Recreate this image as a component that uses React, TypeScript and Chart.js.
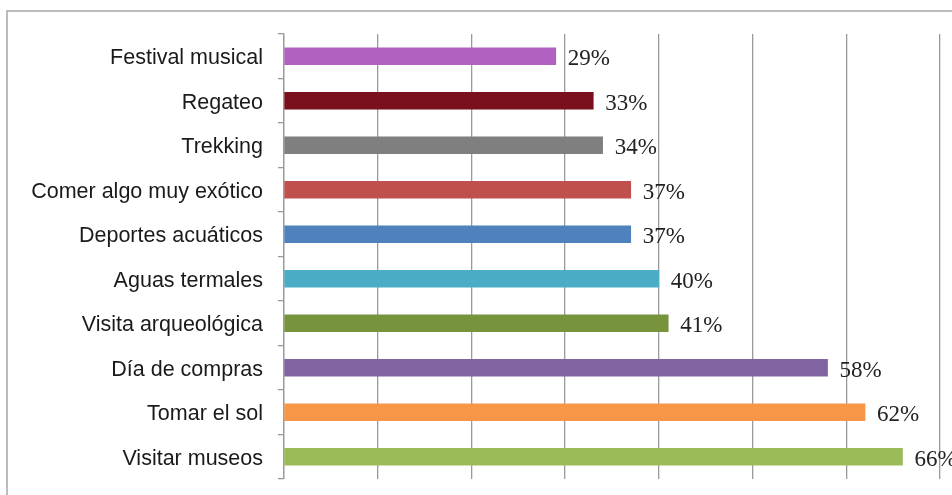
import React, { useEffect, useRef } from "react";
import { Chart, registerables } from "chart.js";

Chart.register(...registerables);

const categories = [
  "Festival musical",
  "Regateo",
  "Trekking",
  "Comer algo muy exótico",
  "Deportes acuáticos",
  "Aguas termales",
  "Visita arqueológica",
  "Día de compras",
  "Tomar el sol",
  "Visitar museos",
];
const values = [29, 33, 34, 37, 37, 40, 41, 58, 62, 66];
const barColors = [
  "#b162c0",
  "#7a0f1d",
  "#7f7f7f",
  "#c0504d",
  "#4f81bd",
  "#4bacc6",
  "#77933c",
  "#8064a2",
  "#f79646",
  "#9bbb59",
];
const xMin = 0;
const xMax = 70;
const xStep = 10;

const labelPlugin = {
  id: "valueLabels",
  afterDatasetsDraw(chart: any) {
    const ctx = chart.ctx;
    const meta = chart.getDatasetMeta(0);
    ctx.save();
    ctx.font = "23px 'Liberation Serif'";
    ctx.fillStyle = "#222222";
    ctx.textAlign = "left";
    ctx.textBaseline = "middle";
    meta.data.forEach((el: any, i: number) => {
      ctx.fillText(values[i] + "%", el.x + 12, el.y + 3);
    });
    ctx.restore();
  },
};

const framePlugin = {
  id: "frame",
  beforeDraw(chart: any) {
    const ctx = chart.ctx;
    ctx.save();
    ctx.fillStyle = "#ffffff";
    ctx.fillRect(0, 0, chart.width, chart.height);
    ctx.strokeStyle = "#a6a6a6";
    ctx.lineWidth = 1.5;
    ctx.strokeRect(7, 11, chart.width + 20, chart.height + 20);
    ctx.restore();
  },
};

export default function App() {
  const ref = useRef<HTMLCanvasElement>(null);
  useEffect(() => {
    if (!ref.current) return;
    const chart = new Chart(ref.current, {
      type: "bar",
      data: {
        labels: categories,
        datasets: [
          {
            data: values,
            backgroundColor: barColors,
            barThickness: 17,
            borderWidth: 0,
          },
        ],
      },
      options: {
        indexAxis: "y",
        animation: false,
        responsive: false,
        maintainAspectRatio: false,
        layout: { padding: { top: 34, bottom: 16, left: 0, right: 12 } },
        plugins: {
          legend: { display: false },
          tooltip: { enabled: false },
        },
        scales: {
          x: {
            min: xMin,
            max: xMax,
            ticks: { display: false, stepSize: xStep },
            grid: { color: "#9a9a9a", lineWidth: 1.3, drawTicks: false },
            border: { display: false },
          },
          y: {
            afterFit(scale: any) {
              scale.width = 284;
              scale.paddingTop = 0;
              scale.paddingBottom = 0;
            },
            ticks: {
              color: "#1a1a1a",
              font: { family: "'Liberation Sans', Arial", size: 21.5 },
              padding: 15,
              labelOffset: 2,
            },
            grid: {
              drawOnChartArea: false,
              drawTicks: true,
              tickLength: 6,
              color: "#9a9a9a",
              lineWidth: 1.3,
              offset: true,
            },
            border: { display: true, color: "#9a9a9a", width: 1.3 },
          },
        },
      },
      plugins: [framePlugin, labelPlugin],
    });
    return () => chart.destroy();
  }, []);
  return (
    <div style={{ position: "fixed", left: 0, top: 0, width: 952, height: 495, overflow: "hidden", background: "#fff" }}>
      <canvas ref={ref} width={952} height={495} style={{ display: "block", width: 952, height: 495 }} />
    </div>
  );
}
